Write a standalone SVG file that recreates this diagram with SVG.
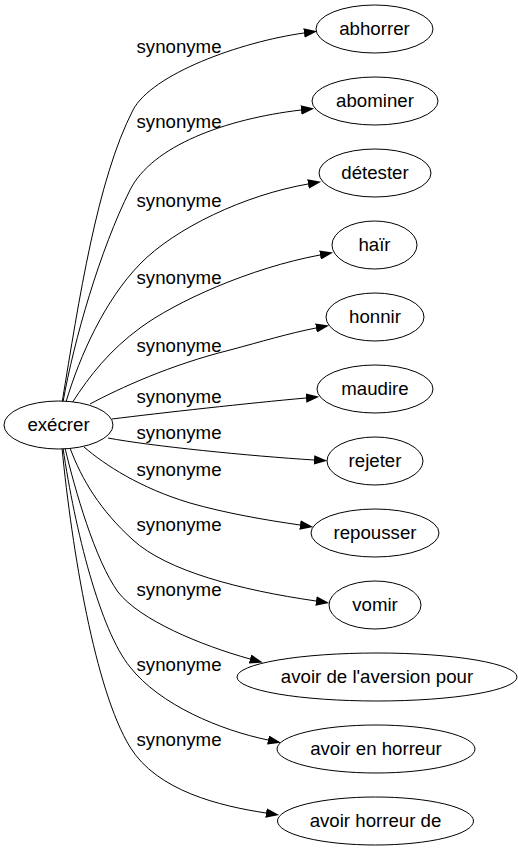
<svg xmlns="http://www.w3.org/2000/svg" width="518" height="851" viewBox="0 0 518 851">
<defs>
<marker id="arr" markerUnits="userSpaceOnUse" viewBox="0 0 13.3 9.4" markerWidth="13.3" markerHeight="9.4" refX="0" refY="4.7" orient="auto">
<path d="M0,0 L13.3,4.7 L0,9.4 z" fill="#000"/>
</marker>
</defs>
<style>
.n ellipse{fill:#fff;stroke:#000;stroke-width:1}
text{font-family:"Liberation Sans",Arial,sans-serif;font-size:18.67px;fill:#000;text-anchor:middle}
.e path{fill:none;stroke:#000;stroke-width:1;marker-end:url(#arr)}
</style>
<rect width="518" height="851" fill="#fff"/>
<g id="edges" class="e">
<path d="M62,403 C79,300 97,180 133,110 C152,74 240,42 304,33"/>
<path d="M63,402 C74,340 100,250 130,190 C152,146 225,119 301,110"/>
<path d="M66,402 C80,355 105,300 140,264 C175,228 245,195 308,184"/>
<path d="M72,403 C90,375 110,350 140,328 C175,302 250,268 320,255"/>
<path d="M90,404 C120,388 170,365 230,350 C260,342 290,333 316,328"/>
<path d="M112,419 C160,413 250,403 306,398"/>
<path d="M108,438 C150,446 250,456 314,460"/>
<path d="M84,447 C105,465 140,488 190,503 C225,513 265,520 300,525"/>
<path d="M70,448 C82,480 100,510 133,540 C167,571 240,590 316,601"/>
<path d="M65,448 C75,490 95,560 118,592 C140,620 200,645 250,659"/>
<path d="M63,448 C75,530 100,630 130,667 C160,705 220,730 268,740"/>
<path d="M62,448 C72,550 95,690 130,747 C157,791 220,806 266,813"/>
</g>
<g id="labels">
<text x="179" y="53">synonyme</text>
<text x="179" y="128">synonyme</text>
<text x="179" y="207">synonyme</text>
<text x="179" y="284">synonyme</text>
<text x="179" y="352">synonyme</text>
<text x="179" y="403">synonyme</text>
<text x="179" y="439">synonyme</text>
<text x="179" y="476">synonyme</text>
<text x="179" y="531">synonyme</text>
<text x="179" y="596">synonyme</text>
<text x="179" y="671">synonyme</text>
<text x="179" y="746">synonyme</text>
</g>
<g id="exécrer" class="n"><ellipse cx="58.5" cy="425" rx="54.5" ry="24"/><text x="58.5" y="431">exécrer</text></g>
<g id="abhorrer" class="n"><ellipse cx="374.5" cy="29" rx="58.5" ry="24"/><text x="374.5" y="35">abhorrer</text></g>
<g id="abominer" class="n"><ellipse cx="375" cy="101" rx="63" ry="24"/><text x="375" y="107">abominer</text></g>
<g id="détester" class="n"><ellipse cx="375" cy="173" rx="56" ry="24"/><text x="375" y="179">détester</text></g>
<g id="haïr" class="n"><ellipse cx="374.5" cy="245" rx="42.5" ry="24"/><text x="374.5" y="251">haïr</text></g>
<g id="honnir" class="n"><ellipse cx="375" cy="317" rx="49" ry="24"/><text x="375" y="323">honnir</text></g>
<g id="maudire" class="n"><ellipse cx="375" cy="389" rx="58" ry="24"/><text x="375" y="395">maudire</text></g>
<g id="rejeter" class="n"><ellipse cx="375" cy="461" rx="48" ry="24"/><text x="375" y="467">rejeter</text></g>
<g id="repousser" class="n"><ellipse cx="375" cy="533" rx="64" ry="24"/><text x="375" y="539">repousser</text></g>
<g id="vomir" class="n"><ellipse cx="375" cy="605" rx="46" ry="24"/><text x="375" y="611">vomir</text></g>
<g id="avoir-de-l-aversion-pour" class="n"><ellipse cx="377" cy="677" rx="140" ry="24"/><text x="377" y="683">avoir de l'aversion pour</text></g>
<g id="avoir-en-horreur" class="n"><ellipse cx="376" cy="749" rx="99" ry="24"/><text x="376" y="755">avoir en horreur</text></g>
<g id="avoir-horreur-de" class="n"><ellipse cx="375.5" cy="821" rx="98" ry="24"/><text x="375.5" y="827">avoir horreur de</text></g>
</svg>
